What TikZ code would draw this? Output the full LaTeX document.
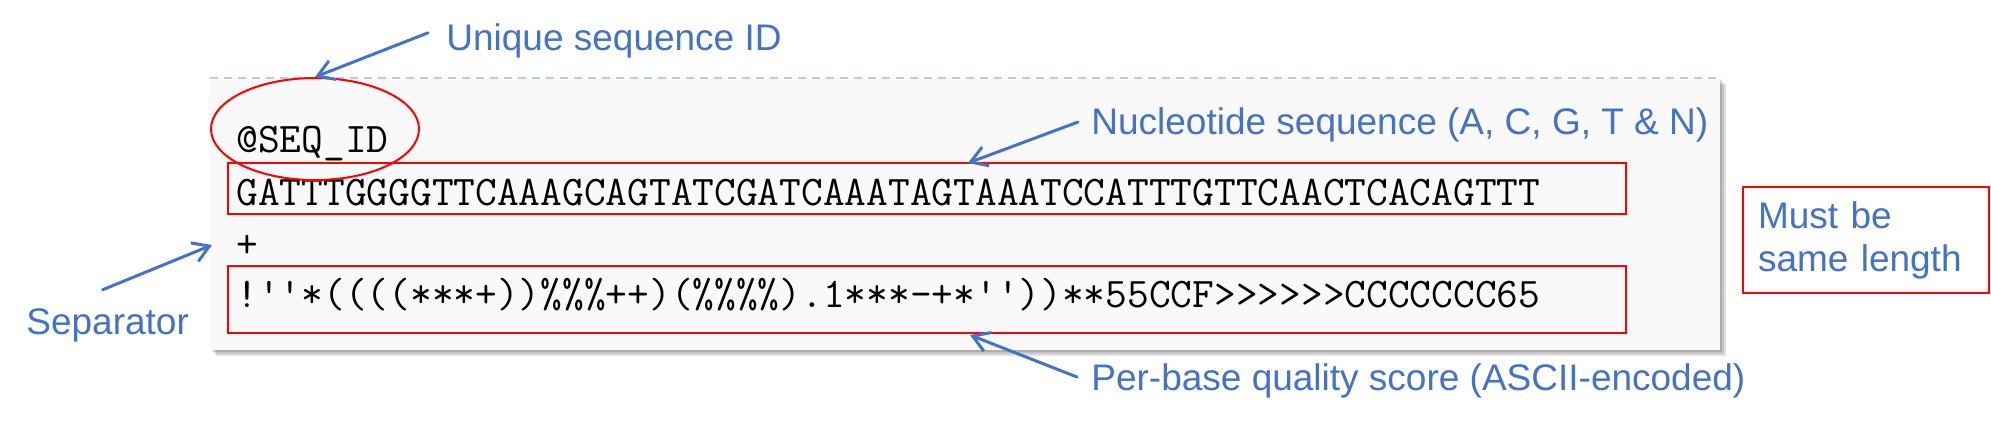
\documentclass[tikz,border=0pt]{standalone}
\usepackage{fontspec}
\setmainfont{Liberation Sans}
\usetikzlibrary{positioning,arrows.meta,shapes.geometric}

\definecolor{noteblue}{HTML}{4472C4}
\definecolor{panelgray}{HTML}{F9F9F9}
\definecolor{rulerblue}{HTML}{B4CDE8}
\newcommand{\fqapos}{\textquotesingle}

\begin{document}
\begin{tikzpicture}[x=0.5pt,y=-0.5pt,
    note/.style={text=noteblue,font=\fontsize{18.5}{21.5}\selectfont,inner sep=0pt,anchor=base west},
    fastq/.style={font=\fontsize{21.1}{26}\ttfamily\addfontfeatures{FakeBold=0.8},inner sep=0pt,anchor=base west},
    redbox/.style={draw=red,line width=1pt,inner sep=0pt},
    pointer/.style={draw=noteblue,line width=1.5pt,line cap=round,-{Straight Barb[length=8pt,width=10pt]}}]
    \useasboundingbox (0,0) rectangle (1991,424);

    % record panel with soft shadow
    \foreach \s in {2,4,6}
        \fill[black,opacity=.12] (210+\s,78+\s) rectangle (1720+\s,350+\s);
    \fill[panelgray] (210,78) rectangle (1720,350);
    \draw[rulerblue,line width=.8pt,dash pattern=on 4pt off 3pt] (210,78) -- (1720,78);

    % the four lines of the record
    \node[fastq] (id) at (236,152) {@SEQ\_ID};
    \node[fastq] (seq) at (236,205) {GATTTGGGGTTCAAAGCAGTATCGATCAAATAGTAAATCCATTTGTTCAACTCACAGTTT};
    \node[fastq] (plus) at (236,257) {+};
    \node[fastq] (qual) at (236,307) {!\fqapos\fqapos*((((***+))\%\%\%++)(\%\%\%\%).1***-+*\fqapos\fqapos))**55CCF>>>>>>CCCCCCC65};

    % highlights
    \node[redbox,ellipse,minimum width=104pt,minimum height=51pt] (idring) at (315,129) {};
    \node[redbox,minimum width=699pt,minimum height=25.5pt] (seqbox) at (927,188.5) {};
    \node[redbox,minimum width=699pt,minimum height=33.5pt] (qualbox) at (927,299.5) {};
    \node[redbox,note,anchor=center,align=left,text width=108pt,inner xsep=7.5pt,
          minimum width=123pt,minimum height=53pt] (samelen) at (1866,240) {Must be\\same length};

    % callouts
    \node[note] (uid) at (446,50) {Unique sequence ID};
    \node[note] (nuc) at (1091,134) {Nucleotide sequence (A, C, G, T \& N)};
    \node[note] (score) at (1091,390) {Per-base quality score (ASCII-encoded)};
    \node[note] (sep) at (26,334) {Separator};

    \coordinate (nuctip) at (968,163);
    \coordinate (scoretip) at (970,335);
    \coordinate (septip) at (212,245);

    \draw[pointer] ([xshift=-9pt,yshift=3.8pt]uid.west) -- (idring.north);
    \draw[pointer] ([xshift=-6.5pt,yshift=1.2pt]nuc.west) -- (nuctip);
    \draw[pointer] ([xshift=-7pt,yshift=1.7pt]score.west) -- (scoretip);
    \draw[pointer] ([xshift=-2.5pt,yshift=9pt]sep.north) -- (septip);
\end{tikzpicture}
\end{document}
